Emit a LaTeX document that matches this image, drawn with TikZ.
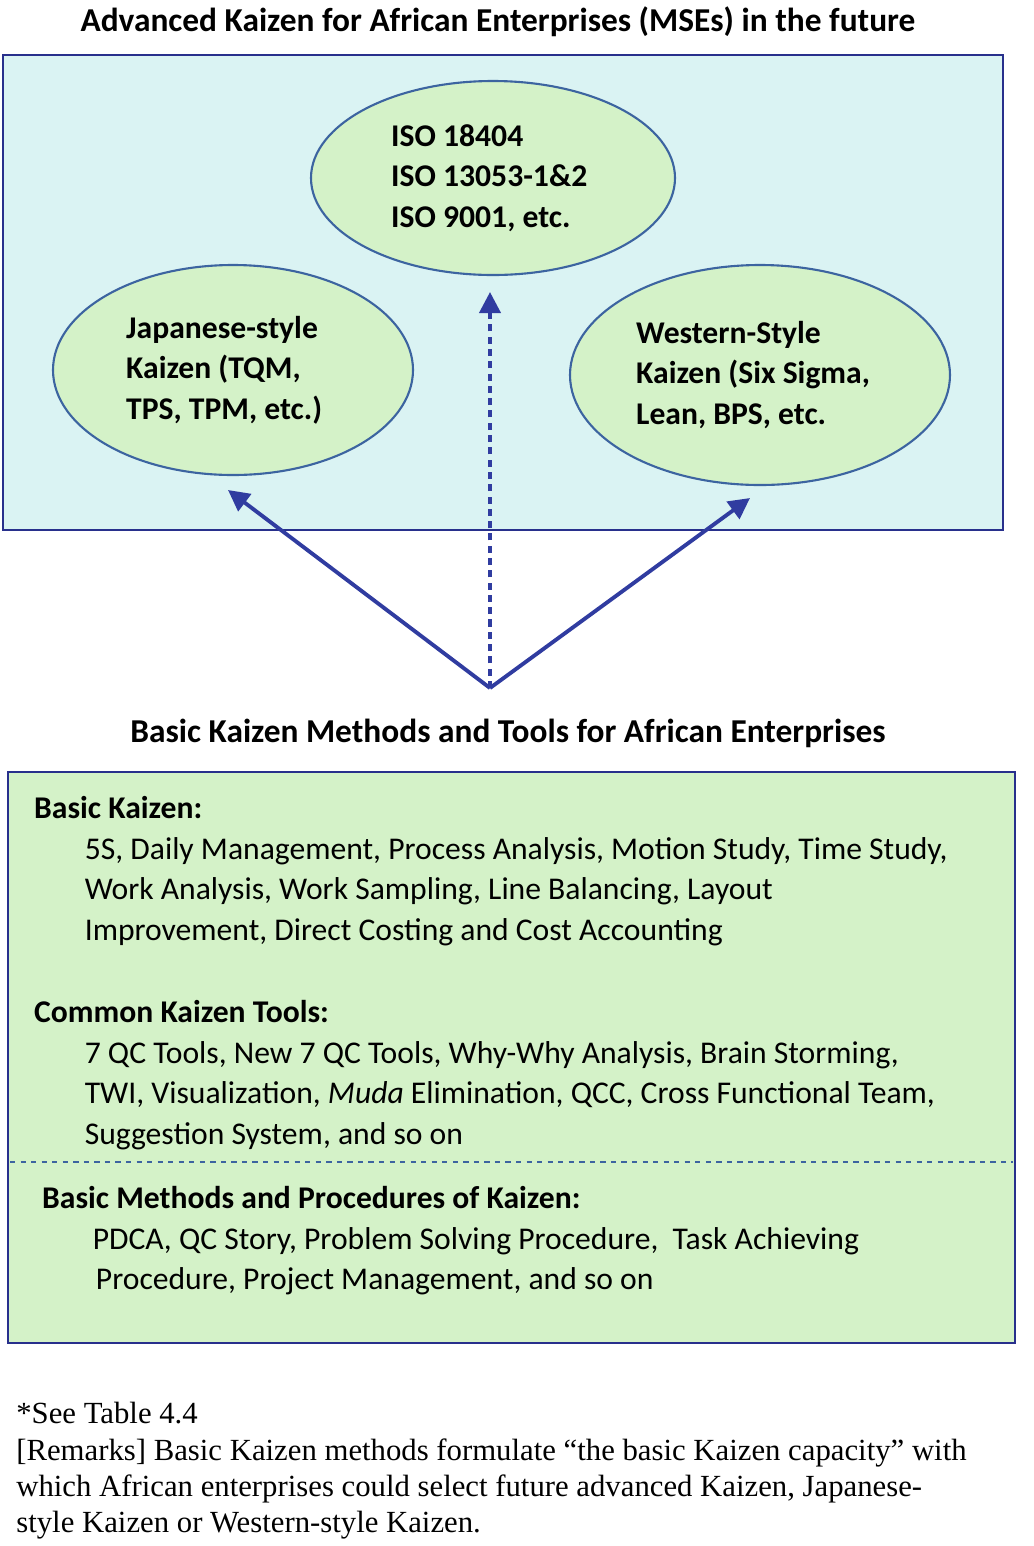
\documentclass[tikz,border=0pt]{standalone}
\usepackage{fontspec}
\setmainfont{Carlito}
\newfontfamily\remfont{Liberation Serif}
\usetikzlibrary{arrows.meta}
\definecolor{frameblue}{RGB}{40,48,140}
\definecolor{skyfill}{RGB}{218,243,243}
\definecolor{leaffill}{RGB}{212,242,200}
\definecolor{rimblue}{RGB}{60,100,160}
\definecolor{arrowblue}{RGB}{48,60,160}
\begin{document}
\begin{tikzpicture}[x=0.02cm,y=-0.02cm,
  panel/.style={draw=frameblue, line width=1.6pt},
  kaizen/.style={draw=rimblue, line width=1.2pt, fill=leaffill},
  label/.style={font=\fontsize{18}{23}\selectfont\bfseries, align=left},
  body/.style={font=\fontsize{18}{23.2}\selectfont, align=left, anchor=north west},
  lift/.style={draw=arrowblue, line width=2.2pt, -{Triangle[length=12pt,width=12pt]}}
]
\useasboundingbox (0,0) rectangle (1034,1546);
\node[font=\fontsize{19}{23}\selectfont\bfseries] (advtitle) at (498,22) {Advanced Kaizen for African Enterprises (MSEs) in the future};
\draw[panel, fill=skyfill] (3,55) rectangle (1003,530);
\filldraw[kaizen] (493,178) ellipse (182 and 97);
\filldraw[kaizen] (233,370) ellipse (180 and 105);
\filldraw[kaizen] (760,375) ellipse (190 and 110);
\node[label, anchor=west] (iso) at (385,178) {ISO 18404\\ISO 13053-1\&2\\ISO 9001, etc.};
\node[label, anchor=west] (japan) at (120,370) {Japanese-style\\Kaizen (TQM,\\TPS, TPM, etc.)};
\node[label, anchor=west] (west) at (630,375) {Western-Style\\Kaizen (Six Sigma,\\Lean, BPS, etc.};
\coordinate (root) at (490,688);
\coordinate (isotip) at (490,292);
\coordinate (japtip) at (228,490);
\coordinate (westtip) at (750,498);
\draw[lift] (root) -- (japtip);
\draw[lift] (root) -- (westtip);
\draw[lift, dash pattern=on 4pt off 3pt] (root) -- (isotip);
\node[font=\fontsize{19}{23}\selectfont\bfseries] (basictitle) at (508,733) {Basic Kaizen Methods and Tools for African Enterprises};
\draw[panel, fill=leaffill] (8,772) rectangle (1015,1343);
\draw[rimblue, dashed, line width=1pt] (10,1162) -- (1013,1162);
\node[body] (basic) at (28,790) {\textbf{Basic Kaizen:}\\
\hspace*{1.6em}5S, Daily Management, Process Analysis, Motion Study, Time Study,\\
\hspace*{1.6em}Work Analysis, Work Sampling, Line Balancing, Layout\\
\hspace*{1.6em}Improvement, Direct Costing and Cost Accounting};
\node[body] (common) at (28,994) {\textbf{Common Kaizen Tools:}\\
\hspace*{1.6em}7 QC Tools, New 7 QC Tools, Why-Why Analysis, Brain Storming,\\
\hspace*{1.6em}TWI, Visualization, \textit{Muda} Elimination, QCC, Cross Functional Team,\\
\hspace*{1.6em}Suggestion System, and so on};
\node[body] (methods) at (36,1180) {\textbf{Basic Methods and Procedures of Kaizen:}\\
\hspace*{1.6em}PDCA, QC Story, Problem Solving Procedure,\ \ Task Achieving\\
\hspace*{1.7em}Procedure, Project Management, and so on};
\node[font=\remfont\fontsize{17.5}{20.7}\selectfont, align=left, anchor=north west, inner sep=0pt] (remarks) at (16,1402) {*See Table 4.4\\
{[}Remarks{]} Basic Kaizen methods formulate “the basic Kaizen capacity” with\\
which African enterprises could select future advanced Kaizen, Japanese-\\style Kaizen or Western-style Kaizen.};
\end{tikzpicture}
\end{document}
